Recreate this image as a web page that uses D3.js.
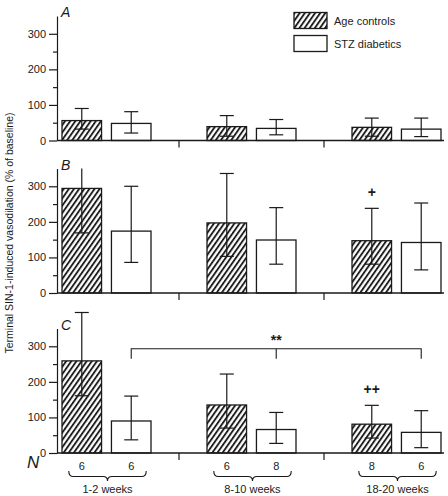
<!DOCTYPE html>
<html><head><meta charset="utf-8">
<script src="https://cdn.jsdelivr.net/npm/d3@7"></script>
<style>
html,body{margin:0;padding:0;background:#fff;}
svg{display:block;font-family:"Liberation Sans",Arial,Helvetica,sans-serif;}
</style></head>
<body><svg id="chart" width="448" height="496"></svg>
<script>
// ---- data ----
const groups = ["1-2 weeks", "8-10 weeks", "18-20 weeks"];
const seriesNames = ["Age controls", "STZ diabetics"];
const panelLabels = ["A", "B", "C"];
const yTicks = [0, 100, 200, 300];
const yMinorTicks = [50, 150, 250];
const yMax = 350;

// Panel A
const ctrlA = [56, 39, 37];
const ctrlA_lo = [32, 12, 12];
const ctrlA_hi = [90, 70, 63];
const stzA = [48, 34, 32];
const stzA_lo = [21, 16, 11];
const stzA_hi = [81, 59, 63];
// Panel B
const ctrlB = [294, 197, 147];
const ctrlB_lo = [169, 103, 81];
const ctrlB_hi = [419, 336, 238];
const stzB = [174, 149, 142];
const stzB_lo = [86, 81, 65];
const stzB_hi = [300, 240, 253];
// Panel C
const ctrlC = [259, 135, 81];
const ctrlC_lo = [161, 70, 42];
const ctrlC_hi = [395, 222, 134];
const stzC = [90, 66, 58];
const stzC_lo = [37, 27, 15];
const stzC_hi = [160, 114, 119];

const nCtrl = [6, 6, 8];
const nStz = [6, 8, 6];

const clipErrorAtTop = [false, true, false];
const plusMarks = ["", "+", "++"];         // over age controls, 18-20 weeks
const bracketLevel = 293;                   // panel C bracket (value units)
const bracketLabel = "**";

// ---- layout ----
const svg = d3.select("#chart");
const axisX = 57, plotRight = 444;
const panelTops = [16, 168.5, 328.5];
const panelH = 124.5;

const xg = d3.scaleBand().domain(groups).range([34, 469]).padding(0);
const xs = d3.scaleBand().domain(seriesNames).range([28, 117]).paddingInner(0.2).paddingOuter(0);

// hatch pattern
const defs = svg.append("defs");
const pat = defs.append("pattern").attr("id", "hatch")
  .attr("patternUnits", "userSpaceOnUse").attr("width", 4.2).attr("height", 10)
  .attr("patternTransform", "rotate(35)");
pat.append("rect").attr("width", 4.2).attr("height", 10).attr("fill", "#fff");
pat.append("line").attr("x1", 1).attr("y1", 0).attr("x2", 1).attr("y2", 10)
  .attr("stroke", "#111").attr("stroke-width", 1.8);

const panelData = [
  { ctrl: ctrlA, ctrlLo: ctrlA_lo, ctrlHi: ctrlA_hi, stz: stzA, stzLo: stzA_lo, stzHi: stzA_hi },
  { ctrl: ctrlB, ctrlLo: ctrlB_lo, ctrlHi: ctrlB_hi, stz: stzB, stzLo: stzB_lo, stzHi: stzB_hi },
  { ctrl: ctrlC, ctrlLo: ctrlC_lo, ctrlHi: ctrlC_hi, stz: stzC, stzLo: stzC_lo, stzHi: stzC_hi }
];

const ink = "#1a1a1a";

panelData.forEach((pd, pi) => {
  const top = panelTops[pi];
  const y = d3.scaleLinear().domain([0, yMax]).range([top + panelH, top]);
  const g = svg.append("g");

  // bars
  const rows = [];
  groups.forEach((gr, gi) => {
    rows.push({ gr, s: seriesNames[0], v: pd.ctrl[gi], lo: pd.ctrlLo[gi], hi: pd.ctrlHi[gi], fill: "url(#hatch)", gi });
    rows.push({ gr, s: seriesNames[1], v: pd.stz[gi], lo: pd.stzLo[gi], hi: pd.stzHi[gi], fill: "#fff", gi });
  });
  const cx = d => xg(d.gr) + xs(d.s) + xs.bandwidth() / 2;

  g.selectAll("rect.bar").data(rows).join("rect").attr("class", "bar")
    .attr("x", d => xg(d.gr) + xs(d.s)).attr("width", xs.bandwidth())
    .attr("y", d => y(d.v)).attr("height", d => y(0) - y(d.v))
    .attr("fill", d => d.fill).attr("stroke", ink).attr("stroke-width", 1.3);

  // error bars
  const capW = 7;
  rows.forEach(d => {
    const clipped = clipErrorAtTop[pi] && d.hi > yMax;
    const hiY = clipped ? y(yMax) : y(d.hi);
    g.append("line").attr("x1", cx(d)).attr("x2", cx(d)).attr("y1", y(d.lo)).attr("y2", hiY)
      .attr("stroke", ink).attr("stroke-width", 1.2);
    if (!clipped) g.append("line").attr("x1", cx(d) - capW).attr("x2", cx(d) + capW)
      .attr("y1", hiY).attr("y2", hiY).attr("stroke", ink).attr("stroke-width", 1.2);
    g.append("line").attr("x1", cx(d) - capW).attr("x2", cx(d) + capW)
      .attr("y1", y(d.lo)).attr("y2", y(d.lo)).attr("stroke", ink).attr("stroke-width", 1.2);
  });

  // axes
  const ax = g.append("g").attr("transform", `translate(${axisX},0)`)
    .call(d3.axisLeft(y).tickValues(yTicks).tickSize(8).tickSizeOuter(0).tickPadding(3).tickFormat(d3.format("d")));
  ax.selectAll("text").attr("font-size", 11).attr("fill", ink).attr("font-family", null);
  ax.selectAll("line,path").attr("stroke", ink).attr("stroke-width", 1.2);
  const axm = g.append("g").attr("transform", `translate(${axisX},0)`)
    .call(d3.axisLeft(y).tickValues(yMinorTicks).tickSize(4).tickSizeOuter(0).tickFormat(""));
  axm.select("path").remove();
  axm.selectAll("line").attr("stroke", ink).attr("stroke-width", 1.2);

  // baseline
  g.append("line").attr("x1", axisX).attr("x2", plotRight).attr("y1", y(0)).attr("y2", y(0))
    .attr("stroke", ink).attr("stroke-width", 1.3);
  // group separator ticks
  groups.slice(1).forEach(gr => {
    g.append("line").attr("x1", xg(gr)).attr("x2", xg(gr)).attr("y1", y(0)).attr("y2", y(0) + 7)
      .attr("stroke", ink).attr("stroke-width", 1.2);
  });

  // panel label
  g.append("text").attr("x", axisX + 4).attr("y", top + 1).attr("font-size", 14)
    .attr("font-style", "italic").attr("fill", ink).text(panelLabels[pi]);

  // plus marks
  if (plusMarks[pi]) {
    const d = rows.find(r => r.gi === 2 && r.s === seriesNames[0]);
    g.append("text").attr("x", cx(d)).attr("y", y(d.hi) - 11).attr("text-anchor", "middle")
      .attr("font-size", 14).attr("font-weight", "bold").attr("fill", ink).text(plusMarks[pi]);
  }

  // bracket in panel C
  if (pi === 2) {
    const sx = gi => xg(groups[gi]) + xs(seriesNames[1]) + xs.bandwidth() / 2;
    const by = y(bracketLevel);
    g.append("path").attr("fill", "none").attr("stroke", ink).attr("stroke-width", 1.1)
      .attr("d", `M${sx(0)},${by + 10}V${by}H${sx(2)}V${by + 10}M${sx(1)},${by}V${by + 10}`);
    g.append("text").attr("x", sx(1)).attr("y", by - 4).attr("text-anchor", "middle")
      .attr("font-size", 14).attr("font-weight", "bold").attr("fill", ink).text(bracketLabel);

    // N row
    const base = y(0);
    svg.append("text").attr("x", 27).attr("y", base + 15).attr("font-size", 17)
      .attr("font-style", "italic").attr("fill", ink).text("N");
    groups.forEach((gr, gi) => {
      const c0 = xg(gr) + xs(seriesNames[0]) + xs.bandwidth() / 2;
      const c1 = xg(gr) + xs(seriesNames[1]) + xs.bandwidth() / 2;
      svg.append("text").attr("x", c0).attr("y", base + 17).attr("text-anchor", "middle")
        .attr("font-size", 11).attr("fill", ink).text(nCtrl[gi]);
      svg.append("text").attr("x", c1).attr("y", base + 17).attr("text-anchor", "middle")
        .attr("font-size", 11).attr("fill", ink).text(nStz[gi]);
      // brace
      const x0 = c0 - 13, x1 = c1 + 15, xm = (x0 + x1) / 2;
      const y0 = base + 18, y1 = base + 23.5, y2 = base + 28, r = 4.5;
      svg.append("path").attr("fill", "none").attr("stroke", ink).attr("stroke-width", 1.1)
        .attr("d", `M${x0},${y0}Q${x0},${y1} ${x0 + r},${y1}L${xm - r},${y1}Q${xm},${y1} ${xm},${y2}Q${xm},${y1} ${xm + r},${y1}L${x1 - r},${y1}Q${x1},${y1} ${x1},${y0}`);
      svg.append("text").attr("x", xm).attr("y", base + 40).attr("text-anchor", "middle")
        .attr("font-size", 11).attr("fill", ink).text(gr);
    });
  }
});

// y-axis title
svg.append("text").attr("transform", "translate(13,233) rotate(-90)")
  .attr("text-anchor", "middle").attr("font-size", 10.5).attr("fill", ink)
  .text("Terminal SIN-1-induced vasodilation (% of baseline)");

// legend
const leg = svg.append("g");
seriesNames.forEach((s, i) => {
  const ly = 12.5 + i * 23;
  leg.append("rect").attr("x", 294).attr("y", ly).attr("width", 33).attr("height", 16)
    .attr("fill", i === 0 ? "url(#hatch)" : "#fff").attr("stroke", ink).attr("stroke-width", 1.3);
  leg.append("text").attr("x", 334).attr("y", ly + 12).attr("font-size", 11).attr("fill", ink).text(s);
});
</script></body></html>
